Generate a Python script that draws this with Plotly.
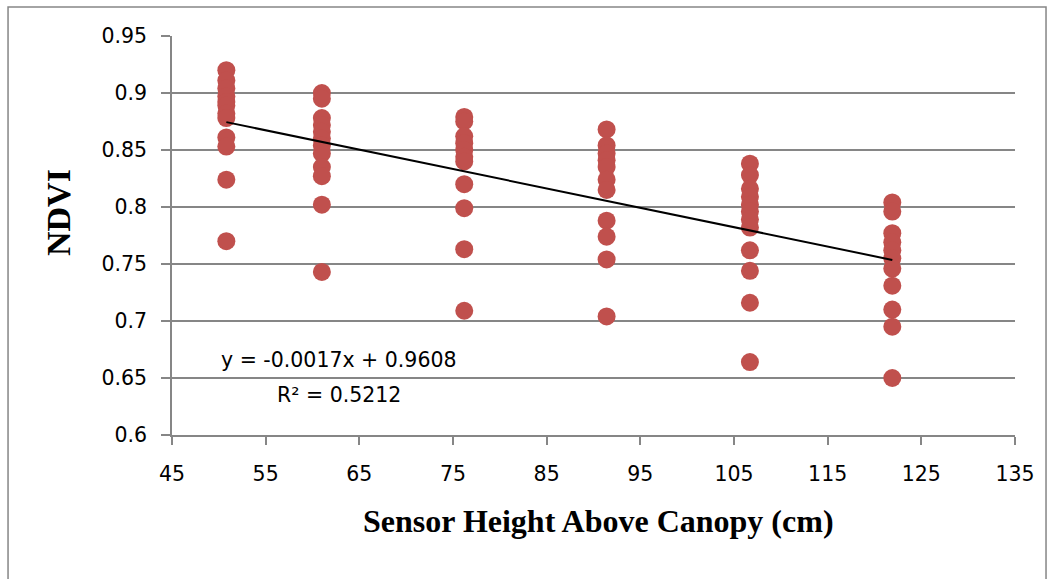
import plotly.graph_objects as go

# Sensor heights (cm) and NDVI readings per height
heights = [50.8, 61.0, 76.2, 91.4, 106.7, 121.9]
ndvi_50 = [0.920, 0.911, 0.904, 0.897, 0.892, 0.889, 0.882, 0.878, 0.861, 0.853, 0.824, 0.770]
ndvi_61 = [0.900, 0.895, 0.878, 0.872, 0.866, 0.860, 0.854, 0.847, 0.835, 0.827, 0.802, 0.743]
ndvi_76 = [0.879, 0.875, 0.862, 0.856, 0.850, 0.844, 0.840, 0.820, 0.799, 0.763, 0.709]
ndvi_91 = [0.868, 0.854, 0.847, 0.841, 0.835, 0.824, 0.815, 0.788, 0.774, 0.754, 0.704]
ndvi_107 = [0.838, 0.828, 0.816, 0.809, 0.802, 0.796, 0.789, 0.782, 0.762, 0.744, 0.716, 0.664]
ndvi_122 = [0.804, 0.796, 0.777, 0.769, 0.762, 0.755, 0.746, 0.731, 0.710, 0.695, 0.650]
series = [ndvi_50, ndvi_61, ndvi_76, ndvi_91, ndvi_107, ndvi_122]

slope = -0.0017
intercept = 0.9608
r2 = 0.5212

xs, ys = [], []
for h, vals in zip(heights, series):
    xs += [h] * len(vals)
    ys += vals

fig = go.Figure()
fig.add_trace(go.Scatter(x=xs, y=ys, mode="markers",
                         marker=dict(color="#C0504D", size=18, line=dict(width=0)),
                         showlegend=False))
fx = [min(heights), max(heights)]
fig.add_trace(go.Scatter(x=fx, y=[slope * v + intercept for v in fx], mode="lines",
                         line=dict(color="black", width=2), showlegend=False))

tickfont = dict(family="DejaVu Sans, sans-serif", size=20.5, color="black")
serif = "Liberation Serif, Times New Roman, serif"

fig.update_layout(
    width=1050, height=579,
    margin=dict(l=172, r=35, t=36, b=144),
    paper_bgcolor="white", plot_bgcolor="white",
    xaxis=dict(range=[45, 135], dtick=10, tick0=45, showgrid=False,
               showline=True, linecolor="#868686", linewidth=1.5,
               ticks="outside", ticklen=8, tickcolor="#868686", tickwidth=1.5,
               tickfont=tickfont, zeroline=False, ticklabelstandoff=12),
    yaxis=dict(range=[0.6, 0.95], dtick=0.05, tick0=0.6, showgrid=True,
               gridcolor="#868686", gridwidth=1.5,
               showline=True, linecolor="#868686", linewidth=1.5,
               ticks="outside", ticklen=9, tickcolor="#868686", tickwidth=1.5,
               tickfont=tickfont, zeroline=False, ticklabelstandoff=10),
    shapes=[dict(type="rect", xref="paper", yref="paper",
                 x0=-0.1945, x1=1.0368, y0=-0.40, y1=1.0727,
                 line=dict(color="#868686", width=1.5), layer="below")],
    annotations=[
        dict(x=0.198, y=0.188, xref="paper", yref="paper", xanchor="center", yanchor="middle",
             text=f"y = {slope}x + {intercept}", showarrow=False,
             font=dict(family="DejaVu Sans, sans-serif", size=20.5, color="black")),
        dict(x=0.198, y=0.100, xref="paper", yref="paper", xanchor="center", yanchor="middle",
             text=f"R² = {r2}", showarrow=False,
             font=dict(family="DejaVu Sans, sans-serif", size=20.5, color="black")),
        dict(x=(598 - 172) / 843, y=(435 - 521) / 399, xref="paper", yref="paper",
             xanchor="center", yanchor="middle", showarrow=False,
             text="<b>Sensor Height Above Canopy (cm)</b>",
             font=dict(family=serif, size=32, color="black")),
        dict(x=(58 - 172) / 843, y=(435 - 212) / 399, xref="paper", yref="paper",
             xanchor="center", yanchor="middle", showarrow=False, textangle=-90,
             text="<b>NDVI</b>",
             font=dict(family=serif, size=34, color="black")),
    ],
)

fig.write_html("out.html")
